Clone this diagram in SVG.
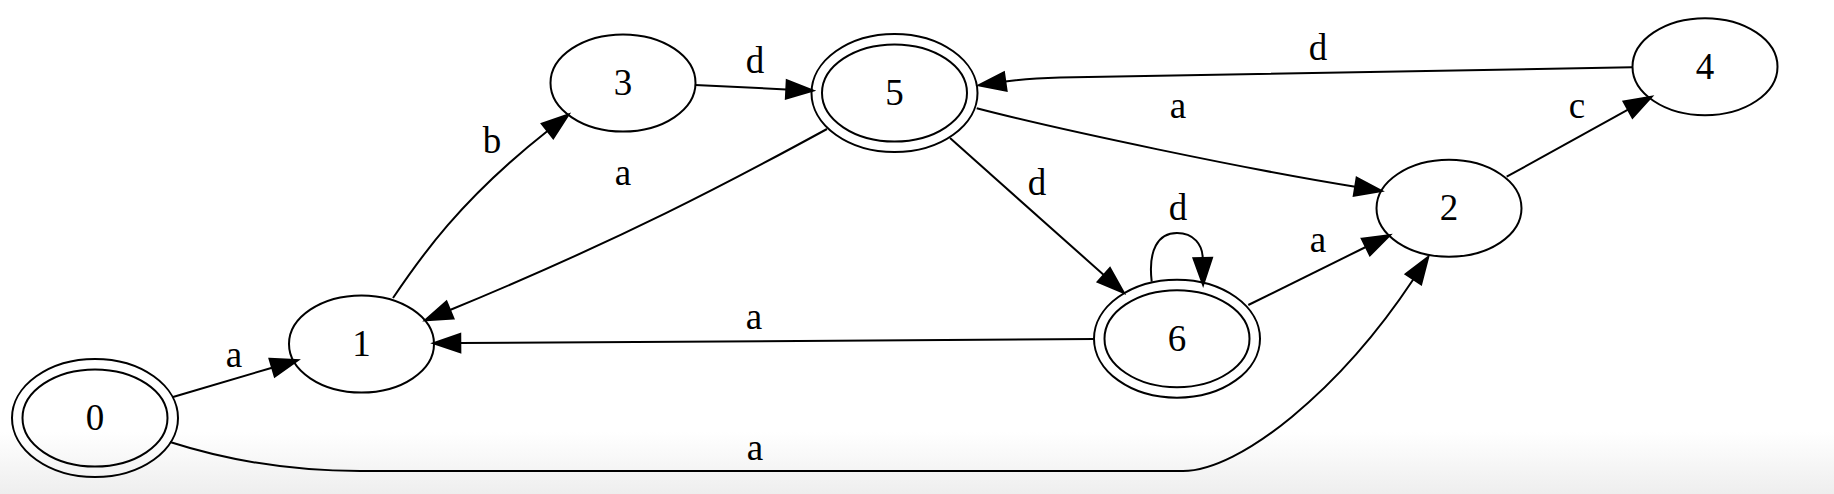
<svg xmlns="http://www.w3.org/2000/svg" width="1834" height="494" viewBox="0 0 1834 494">
<defs>
<linearGradient id="bg" x1="0" y1="0" x2="0" y2="1">
<stop offset="0" stop-color="#ffffff"/>
<stop offset="1" stop-color="#eeeeee"/>
</linearGradient>
<marker id="arrow" viewBox="0 0 27 20" refX="0" refY="10" markerWidth="27" markerHeight="20" markerUnits="userSpaceOnUse" orient="auto" overflow="visible">
<path d="M0,0.7 L27,10 L0,19.3 Z" fill="#000" stroke="#000" stroke-width="2" stroke-linejoin="miter"/>
</marker>
</defs>
<style>
.n ellipse { fill: none; stroke: #000; stroke-width: 2; }
.lbl { font-family: "Liberation Serif", "Times New Roman", serif; font-size: 37px; fill: #000; text-anchor: middle; }
.e path { fill: none; stroke: #000; stroke-width: 2; marker-end: url(#arrow); }
</style>
<rect x="0" y="0" width="1834" height="494" fill="#ffffff"/>
<rect x="0" y="432" width="1834" height="62" fill="url(#bg)"/>

<g id="edges" class="e">
<path id="e0-1" d="M173,397 L272.1,367.7"/>
<path id="e0-2" d="M170,442 C220,458 280,471 360,471 L1183,471 C1240,471 1340,390 1413.4,279.3"/>
<path id="e1-3" d="M393,298 C420,258 460,200 547.5,131"/>
<path id="e3-5" d="M695,85 L786.3,89.4"/>
<path id="e5-1" d="M827,129 C730,182 620,240 450,310"/>
<path id="e6-1" d="M1094.3,339 L460.3,343.1"/>
<path id="e4-5" d="M1632,67.3 L1060,77.5 C1040,78 1020,79.5 1005.3,81.6"/>
<path id="e5-2" d="M976.7,108.3 C1060,130 1250,170 1355.2,186.7"/>
<path id="e5-6" d="M950,138 L1103.8,275"/>
<path id="e6-6" d="M1151.7,281.7 C1148,250 1158,233 1177,233 C1194,233 1202.5,245 1202.7,258"/>
<path id="e6-2" d="M1248.3,305 L1365.8,247"/>
<path id="e2-4" d="M1506.7,176.7 L1628,109.7"/>
</g>

<g id="edge-labels">
<text class="lbl" x="234" y="367">a</text>
<text class="lbl" x="755" y="460">a</text>
<text class="lbl" x="492" y="153">b</text>
<text class="lbl" x="755" y="73">d</text>
<text class="lbl" x="623" y="185">a</text>
<text class="lbl" x="754" y="329">a</text>
<text class="lbl" x="1318" y="60">d</text>
<text class="lbl" x="1178" y="118">a</text>
<text class="lbl" x="1037" y="195">d</text>
<text class="lbl" x="1178" y="220">d</text>
<text class="lbl" x="1318" y="252">a</text>
<text class="lbl" x="1577" y="118">c</text>
</g>

<g id="node0" class="n">
<ellipse cx="95" cy="418" rx="72.5" ry="48.5"/>
<ellipse cx="95" cy="418" rx="83" ry="59"/>
<text class="lbl" x="95" y="430">0</text>
</g>
<g id="node1" class="n">
<ellipse cx="361.5" cy="344" rx="72.5" ry="48.5"/>
<text class="lbl" x="361.5" y="356">1</text>
</g>
<g id="node3" class="n">
<ellipse cx="623" cy="83" rx="72.5" ry="48.5"/>
<text class="lbl" x="623" y="95">3</text>
</g>
<g id="node5" class="n">
<ellipse cx="894.5" cy="93" rx="72.5" ry="48.5"/>
<ellipse cx="894.5" cy="93" rx="83" ry="59"/>
<text class="lbl" x="894.5" y="105">5</text>
</g>
<g id="node4" class="n">
<ellipse cx="1705" cy="66.7" rx="72.5" ry="48.5"/>
<text class="lbl" x="1705" y="78.7">4</text>
</g>
<g id="node2" class="n">
<ellipse cx="1449" cy="208.3" rx="72.5" ry="48.5"/>
<text class="lbl" x="1449" y="220.3">2</text>
</g>
<g id="node6" class="n">
<ellipse cx="1177" cy="338.7" rx="72.5" ry="48.5"/>
<ellipse cx="1177" cy="338.7" rx="83" ry="59"/>
<text class="lbl" x="1177" y="350.7">6</text>
</g>
</svg>
